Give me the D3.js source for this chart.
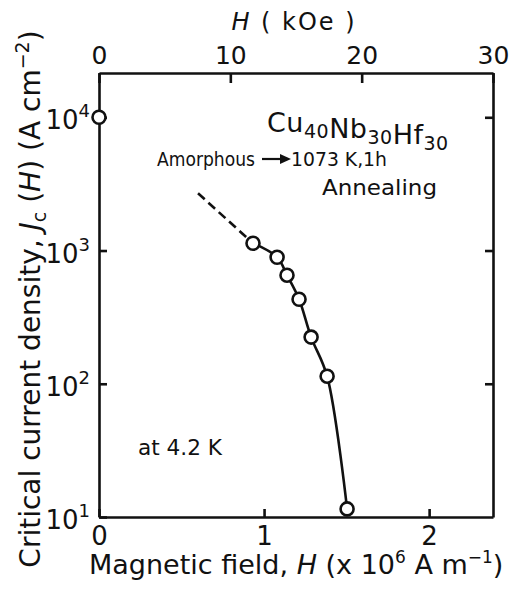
<!DOCTYPE html>
<html lang="en">
<head>
<meta charset="utf-8">
<title>Critical current density vs magnetic field</title>
<script src="https://cdn.jsdelivr.net/npm/d3@7"></script>
<style>
  body { margin: 0; background: #fff; }
  svg text { font-family: "DejaVu Sans", sans-serif; fill: #111; }
  .axis path, .axis line { stroke: #111; stroke-width: 2.6; }
</style>
</head>
<body>
<script>
// measured points, field in 10^6 A/m, Jc in A/cm^2
var fieldMA = [0.933, 1.079, 1.139, 1.212, 1.285, 1.382, 1.503];
var jc = [1135, 891, 653, 431, 224, 114, 11.5];
var zeroField = [0];
var zeroJc = [10000];
// dashed extrapolation towards low field
var dashField = [0.60, 0.933];
var dashJc = [2690, 1135];

var bottomTicks = [0, 1, 2];
var topTicks = [0, 10, 20, 30];
var yTicks = [10, 100, 1000, 10000];
var yExp = [1, 2, 3, 4];

var margin = {top: 73, right: 19, bottom: 74, left: 99};
var W = 512, H = 591;
var w = W - margin.left - margin.right;
var h = H - margin.top - margin.bottom;

var x = d3.scaleLinear().domain([0, 2.387]).range([0, w]);   // 30 kOe = 2.387e6 A/m
var xk = d3.scaleLinear().domain([0, 30]).range([0, w]);
var y = d3.scaleLog().domain([10, 21500]).range([h, 0]);

var svg = d3.select("body").append("svg")
    .attr("width", W)
    .attr("height", H);

var g = svg.append("g")
    .attr("transform", "translate(" + margin.left + "," + margin.top + ")");

// axes / frame
var bottomAx = g.append("g").attr("class", "axis")
    .attr("transform", "translate(0," + h + ")")
    .call(d3.axisBottom(x).tickValues(bottomTicks).tickSizeInner(-8).tickSizeOuter(0)
        .tickPadding(10).tickFormat(d3.format("d")));
bottomAx.selectAll("text").attr("font-size", 26).attr("font-family", "DejaVu Sans");

var topAx = g.append("g").attr("class", "axis")
    .call(d3.axisTop(xk).tickValues(topTicks).tickSizeInner(-10).tickSizeOuter(0)
        .tickPadding(9).tickFormat(d3.format("d")));
topAx.selectAll("text").attr("font-size", 25).attr("font-family", "DejaVu Sans");

var leftAx = g.append("g").attr("class", "axis")
    .call(d3.axisLeft(y).tickValues(yTicks).tickSizeInner(-8).tickSizeOuter(0)
        .tickPadding(9).tickFormat(""));
leftAx.selectAll(".tick text").each(function(d, i) {
  var t = d3.select(this).attr("font-size", 26).attr("font-family", "DejaVu Sans").attr("dy", "0.45em");
  t.append("tspan").text("10");
  t.append("tspan").attr("font-size", 18).attr("dy", -12).text(yExp[i]);
});

g.append("g").attr("class", "axis")
    .attr("transform", "translate(" + w + ",0)")
    .call(d3.axisRight(y).tickValues([100, 1000, 10000]).tickSizeInner(-8).tickSizeOuter(0)
        .tickFormat(""));

// dashed part
var line = d3.line()
    .x(function(d) { return x(d[0]); })
    .y(function(d) { return y(d[1]); });

g.append("path")
    .datum(d3.zip(dashField, dashJc))
    .attr("d", line)
    .attr("fill", "none")
    .attr("stroke", "#111")
    .attr("stroke-width", 2.6)
    .attr("stroke-dasharray", "9,5");

g.append("path")
    .datum(d3.zip(fieldMA, jc))
    .attr("d", line.curve(d3.curveCatmullRom))
    .attr("fill", "none")
    .attr("stroke", "#111")
    .attr("stroke-width", 2.6);

g.selectAll(".pt")
    .data(d3.zip(zeroField.concat(fieldMA), zeroJc.concat(jc)))
  .enter().append("circle")
    .attr("class", "pt")
    .attr("cx", function(d) { return x(d[0]); })
    .attr("cy", function(d) { return y(d[1]); })
    .attr("r", 6.5)
    .attr("fill", "#fff")
    .attr("stroke", "#111")
    .attr("stroke-width", 2.6);

// axis titles
var tt = svg.append("text")
    .attr("x", margin.left + xk(15) - 2)
    .attr("y", 30)
    .attr("text-anchor", "middle")
    .attr("font-size", 24)
    .attr("letter-spacing", 2);
tt.append("tspan").attr("font-style", "italic").text("H");
tt.append("tspan").text("  ( kOe )");

var bt = svg.append("text")
    .attr("x", 89)
    .attr("y", 574)
    .attr("font-size", 27);
bt.append("tspan").text("Magnetic field, ");
bt.append("tspan").attr("font-style", "italic").text("H");
bt.append("tspan").text(" (x 10");
bt.append("tspan").attr("font-size", 17).attr("dy", -11).text("6");
bt.append("tspan").attr("dy", 11).text(" A m");
bt.append("tspan").attr("font-size", 17).attr("dy", -11).text("\u22121");
bt.append("tspan").attr("dy", 11).text(")");

var lt = svg.append("text")
    .attr("transform", "translate(40,299) rotate(-90)")
    .attr("text-anchor", "middle")
    .attr("font-size", 28);
lt.append("tspan").text("Critical  current  density, ");
lt.append("tspan").attr("font-style", "italic").text("J");
lt.append("tspan").attr("font-size", 19).attr("dy", 6).text("c");
lt.append("tspan").attr("dy", -6).text(" (");
lt.append("tspan").attr("font-style", "italic").text("H");
lt.append("tspan").text(") (A cm");
lt.append("tspan").attr("font-size", 19).attr("dy", -11).text("\u22122");
lt.append("tspan").attr("dy", 11).text(")");

// annotations
var cu = svg.append("text")
    .attr("x", 267)
    .attr("y", 132)
    .attr("font-size", 27)
    .attr("letter-spacing", 0.5);
[["Cu", "40"], ["Nb", "30"], ["Hf", "30"]].forEach(function(p) {
  cu.append("tspan").text(p[0]);
  cu.append("tspan").attr("font-size", 19).attr("dy", 6).text(p[1]);
  cu.append("tspan").attr("dy", -6).text("");
});

svg.append("text")
    .attr("x", 157).attr("y", 166)
    .attr("font-size", 20)
    .attr("textLength", 98)
    .attr("lengthAdjust", "spacingAndGlyphs")
    .text("Amorphous");

svg.append("line")
    .attr("x1", 262).attr("y1", 159).attr("x2", 282).attr("y2", 159)
    .attr("stroke", "#111").attr("stroke-width", 2.2);
svg.append("path")
    .attr("d", "M280,154L291,159L280,164Z")
    .attr("fill", "#111");

svg.append("text")
    .attr("x", 291).attr("y", 166)
    .attr("font-size", 20)
    .attr("textLength", 96)
    .attr("lengthAdjust", "spacingAndGlyphs")
    .text("1073 K,1h");

svg.append("text")
    .attr("x", 322).attr("y", 195)
    .attr("font-size", 21)
    .attr("textLength", 115)
    .attr("lengthAdjust", "spacingAndGlyphs")
    .text("Annealing");

svg.append("text")
    .attr("x", 138).attr("y", 455)
    .attr("font-size", 21)
    .attr("textLength", 84)
    .attr("lengthAdjust", "spacingAndGlyphs")
    .text("at 4.2 K");
</script>
</body>
</html>
